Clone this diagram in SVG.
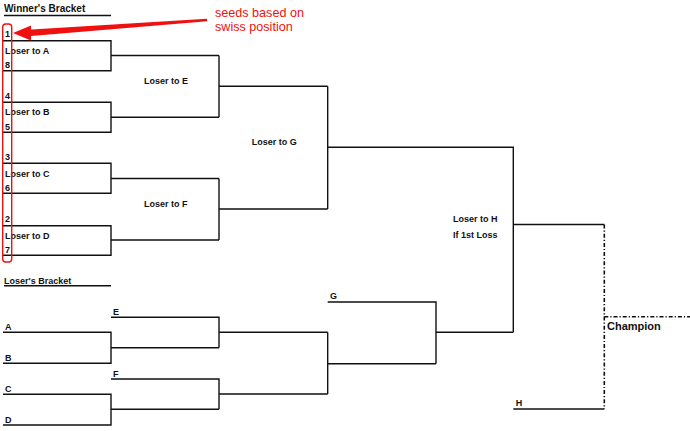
<svg xmlns="http://www.w3.org/2000/svg" width="690" height="431" viewBox="0 0 690 431">
<style>
.t{font-family:"Liberation Sans",Arial,sans-serif;font-weight:bold;font-size:9px;fill:#111}
.h{font-size:10px}
.c{font-size:11px}
.ln{fill:none;stroke:#111;stroke-width:1.4}
.dd{fill:none;stroke:#111;stroke-width:1.6;stroke-dasharray:4 2 1.2 2}
.note{font-family:"Liberation Sans",Arial,sans-serif;font-size:12.6px;fill:#f01010;stroke:#fff;stroke-width:2.5;paint-order:stroke;stroke-linejoin:round}
</style>
<rect width="690" height="431" fill="#fff"/>
<g id="connectors">
<path class="ln" d="M4 15.5H111"/>
<path class="ln" d="M3 40.7H111V70.7H3M111 55.5H219M3 102.3H111V132.3H3M111 117.3H219M219 55.5V117.3M219 86.3H327.7"/>
<path class="ln" d="M3 163.3H111V193.3H3M111 178.5H219M3 225.7H111V255.3H3M111 240H219M219 178.5V240M219 209H327.7"/>
<path class="ln" d="M327.7 86.3V209M327.7 147.3H513.3V332.3M513.3 224.5H604.3"/>
<path class="ln" d="M4 285.7H111"/>
<path class="ln" d="M3 332.3H111V363.3H3M111 347.7H219M111 317.3H219V347.7M219 332.3H327.7"/>
<path class="ln" d="M3 394.3H111V425H3M111 409.3H219M111 379H219V409.3M219 394H327.7"/>
<path class="ln" d="M327.7 332.3V394M327.7 363.7H436M327.7 302H436V363.7M436 332.3H513.3"/>
<path class="ln" d="M513.3 409H604.3"/>
<path class="dd" d="M604.3 224.5V409M604.3 316.7H690"/>
</g>
<g id="winners-bracket">
<text class="t h" x="4" y="11.6">Winner's Bracket</text>
</g>
<g id="match-a"><text class="t" x="5" y="36.5">1</text><text class="t" x="5" y="53.5">Loser to A</text><text class="t" x="5" y="67.5">8</text></g>
<g id="match-b"><text class="t" x="5" y="98.5">4</text><text class="t" x="5" y="114.5">Loser to B</text><text class="t" x="5" y="129.5">5</text></g>
<g id="match-c"><text class="t" x="5" y="160">3</text><text class="t" x="5" y="176.5">Loser to C</text><text class="t" x="5" y="191">6</text></g>
<g id="match-d"><text class="t" x="5" y="222">2</text><text class="t" x="5" y="238.5">Loser to D</text><text class="t" x="5" y="253">7</text></g>
<g id="match-e"><text class="t" x="144" y="83.5">Loser to E</text></g>
<g id="match-f"><text class="t" x="144" y="206.5">Loser to F</text></g>
<g id="match-g"><text class="t" x="251.7" y="145">Loser to G</text></g>
<g id="match-h"><text class="t" x="453" y="222">Loser to H</text><text class="t" x="453" y="237.5">If 1st Loss</text></g>
<g id="losers-bracket"><text class="t" x="4" y="283.5">Loser's Bracket</text></g>
<g id="slot-a"><text class="t" x="5" y="329.5">A</text></g>
<g id="slot-b"><text class="t" x="5" y="361">B</text></g>
<g id="slot-c"><text class="t" x="5" y="391.5">C</text></g>
<g id="slot-d"><text class="t" x="5" y="422.5">D</text></g>
<g id="slot-e"><text class="t" x="113" y="315">E</text></g>
<g id="slot-f"><text class="t" x="113" y="376.5">F</text></g>
<g id="slot-g"><text class="t" x="330" y="299">G</text></g>
<g id="slot-h"><text class="t" x="515.7" y="406">H</text></g>
<g id="champion"><text class="t c" x="607" y="329.5">Champion</text></g>
<g id="annotation">
<rect x="2.7" y="24" width="9" height="238" rx="3" fill="none" stroke="#f01010" stroke-width="1.4"/>
<polygon points="207,18.8 207.3,21.2 28,36.3 27.5,29.8" fill="#f01010"/>
<polygon points="13,33 31,25.5 31,40.5" fill="#f01010"/>
<text class="note" x="215" y="17.3">seeds based on</text>
<text class="note" x="215" y="31">swiss position</text>
</g>
</svg>
